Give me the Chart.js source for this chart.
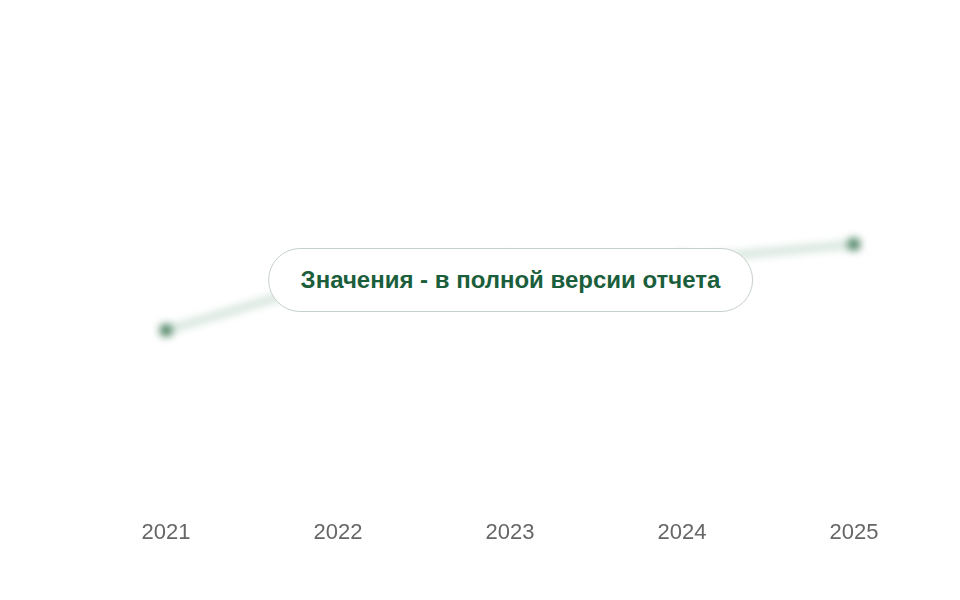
<!DOCTYPE html>
<html>
<head>
<meta charset="utf-8">
<script src="https://cdn.jsdelivr.net/npm/chart.js@4"></script>
<style>
  html, body { margin: 0; padding: 0; background: #fff; }
  #wrap { position: relative; width: 960px; height: 600px; }
  #lock {
    position: absolute; left: 510.5px; top: 280px;
    transform: translate(-50%, -50%);
    background: #fff; border: 1px solid #c6d0ca; border-radius: 32px;
    font: bold 24px "Liberation Sans", Arial, sans-serif; color: #1b5e3b;
    padding: 0 32px; height: 62px; line-height: 62px; white-space: nowrap;
  }
</style>
</head>
<body>
<div id="wrap">
  <canvas id="myChart" width="960" height="600"></canvas>
  <div id="lock">Значения - в полной версии отчета</div>
</div>
<script>
var years = ['2021', '2022', '2023', '2024', '2025'];
var values = [38.2, 49.4, 53.3, 53.7, 57.2];

// blur only the dataset, keep the axis labels sharp
var blurPlugin = {
    id: 'blurData',
    beforeDatasetsDraw: function (chart) {
        chart.ctx.save();
        chart.ctx.filter = 'blur(4px)';
    },
    afterDatasetsDraw: function (chart) {
        chart.ctx.restore();
    }
};

var ctx = document.getElementById('myChart').getContext('2d');
new Chart(ctx, {
    type: 'line',
    data: {
        labels: years,
        datasets: [{
            data: values,
            fill: false,
            tension: 0,
            borderColor: 'rgba(70, 140, 100, 0.3)',
            borderWidth: 6,
            pointRadius: 6,
            pointBackgroundColor: '#2f6e48',
            pointBorderWidth: 0
        }]
    },
    options: {
        responsive: false,
        animation: false,
        layout: { padding: { left: 80, right: 20, top: 50, bottom: 46 } },
        plugins: { legend: { display: false }, tooltip: { enabled: false } },
        scales: {
            x: {
                offset: true,
                grid: { display: false },
                border: { display: false },
                ticks: { color: '#666', font: { family: 'Liberation Sans', size: 22 }, padding: 8 }
            },
            y: {
                display: false,
                min: 0,
                max: 100
            }
        }
    },
    plugins: [blurPlugin]
});
</script>
</body>
</html>
